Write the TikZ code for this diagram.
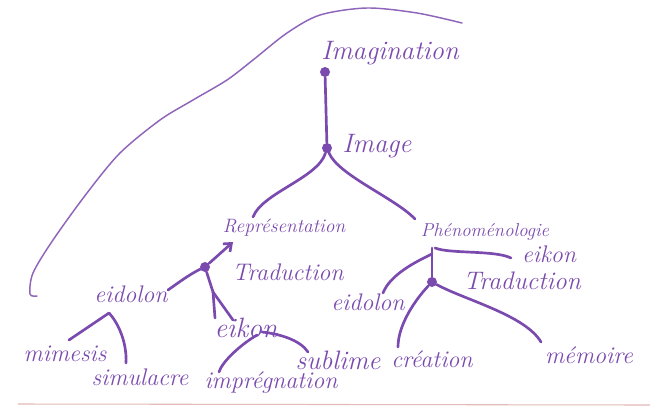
\documentclass[tikz,border=0pt]{standalone}
\usepackage{amsmath}
\usepackage{tikz}
\usetikzlibrary{calc,arrows.meta}
\definecolor{ink}{RGB}{122,74,174}
\definecolor{edge}{RGB}{228,185,185}

\begin{document}
\begin{tikzpicture}[x=0.75pt,y=0.75pt,yscale=-1,xscale=1,
  word/.style={text=ink, inner sep=0.75pt, font=\fontsize{18}{18}\selectfont\itshape},
  knot/.style={circle, fill=ink, inner sep=0pt, minimum size=7.5pt},
  pen/.style={draw=ink, line width=2pt, line cap=round, line join=round},
  thinpen/.style={draw=ink!85, line width=1.1pt, line cap=round}]
\useasboundingbox (0,0) rectangle (650,408);

% Text Node
\node [word, font=\fontsize{20}{20}\selectfont\itshape] (imagination) at (390,53) {Imagination};
\node [knot] (d0) at (325,72) {};
\node [knot] (d1) at (327,148) {};
% Text Node
\node [word, font=\fontsize{20}{20}\selectfont\itshape] (image) at (377,146) {Image};
% Text Node
\node [word, font=\fontsize{14.5}{15}\selectfont\itshape] (repr) at (284,228) {Représentation};
% Text Node
\node [word, font=\fontsize{14}{14}\selectfont\itshape] (phen) at (485,232) {Phénoménologie};
\node [knot] (d2) at (205,267) {};
% Text Node
\node [word] (trad1) at (288,272) {Traduction};
% Text Node
\node [word] (eidolon1) at (131,294) {eidolon};
% Text Node
\node [word] (mimesis) at (65,354) {mimesis};
% Text Node
\node [word] (simulacre) at (140,377) {simulacre};
% Text Node
\node [word, font=\fontsize{21}{21}\selectfont\itshape] (eikon1) at (246,328) {eikon};
% Text Node
\node [word] (impreg) at (271,383) {imprégnation};
% Text Node
\node [word, font=\fontsize{20}{20}\selectfont\itshape] (sublime) at (338,360) {sublime};
\node [knot] (d3) at (432,282) {};
% Text Node
\node [word] (eikon2) at (549,254) {eikon};
% Text Node
\node [word, font=\fontsize{19}{19}\selectfont\itshape] (trad2) at (522,281) {Traduction};
% Text Node
\node [word] (eidolon2) at (368,302) {eidolon};
% Text Node
\node [word] (creation) at (432,359) {création};
% Text Node
\node [word] (memoire) at (589,355) {mémoire};
\coordinate (fork1) at (213,292);

%Straight Lines
\draw [pen] (d0) -- (d1);
%Curve Lines
\draw [pen] (d1) .. controls (318,178) and (262,193) .. ($(repr)+(-31,-11)$);
\draw [pen] (d1) .. controls (338,175) and (395,198) .. ($(phen)+(-70,-13)$);
%Straight Lines
\draw [pen, -{Straight Barb[length=5pt,width=8pt]}] (d2) -- ($(repr)+(-51,14)$);
%Curve Lines
\draw [pen] (d2) .. controls (190,274) and (178,283) .. ($(eidolon1)+(37,-4)$);
%Straight Lines
\draw [pen] (d2) -- (fork1);
\draw [pen] (fork1) -- ($(eikon1)+(-31,-10)$);
\draw [pen] (fork1) -- ($(eikon1)+(-13,-8)$);
%Curve Lines
\draw [pen] ($(mimesis)+(4,-14)$) -- ($(eidolon1)+(-22,19)$) .. controls (120,325) and (127,345) .. ($(simulacre)+(-14,-14)$);
\draw [pen] ($(eikon1)+(11,7)$) .. controls (240,345) and (222,362) .. ($(impreg)+(-52,-11)$);
\draw [pen] ($(eikon1)+(16,4)$) .. controls (280,334) and (300,340) .. ($(sublime)+(-30,-8)$);
%Straight Lines
\draw [pen] ($(phen)+(-53,16)$) -- (d3);
%Curve Lines
\draw [pen] ($(phen)+(-50,16)$) .. controls (450,254) and (495,250) .. ($(eikon2)+(-38,4)$);
\draw [pen] ($(phen)+(-53,22)$) .. controls (415,262) and (390,275) .. ($(eidolon2)+(15,-9)$);
\draw [pen] (d3) .. controls (415,300) and (398,325) .. ($(creation)+(-34,-12)$);
\draw [pen] (d3) .. controls (465,300) and (525,315) .. ($(memoire)+(-48,-13)$);

%Shape: Free hand
\draw [thinpen] plot [smooth, tension=0.5] coordinates {(37,296) (30,294) (33,273) (53,240) (87,193) (120,153) (160,120) (193,100) (227,80) (253,60) (287,33) (320,15) (367,8) (417,13) (462,23)};
%Straight Lines
\draw [edge, line width=0.8pt] (18,404) -- (650,405);

\end{tikzpicture}
\end{document}
